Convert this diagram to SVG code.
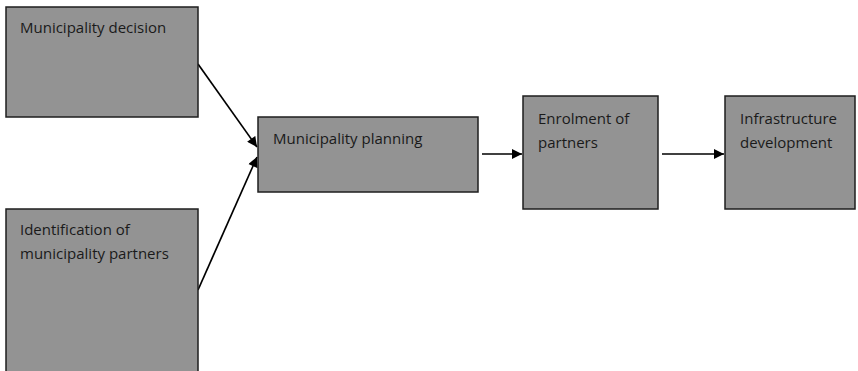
<svg xmlns="http://www.w3.org/2000/svg" width="858" height="371" viewBox="0 0 858 371">
<style>
.box{fill:#939393;stroke:#1e1e1e;stroke-width:1.5}
.t{font-family:"Open Sans","Liberation Sans",sans-serif;font-size:15px;fill:#1a1a1a}
.c{stroke:#000;stroke-width:1.7;fill:none;marker-end:url(#ah)}
</style>
<defs>
<marker id="ah" viewBox="0 0 10 10" refX="10" refY="5" markerWidth="11" markerHeight="10" markerUnits="userSpaceOnUse" orient="auto"><path d="M0,0 L10,5 L0,10 z" fill="#000"/></marker>
</defs>
<rect width="858" height="371" fill="#fff"/>
<g id="connectors">
<line class="c" x1="198" y1="64" x2="257" y2="147"/>
<line class="c" x1="198" y1="290" x2="257" y2="157"/>
<line class="c" x1="482" y1="154" x2="522" y2="154"/>
<line class="c" x1="662" y1="154" x2="724" y2="154"/>
</g>
<g id="n1"><rect class="box" x="6" y="7" width="192" height="110"/><text class="t" x="20" y="33">Municipality decision</text></g>
<g id="n2"><rect class="box" x="6" y="209" width="192" height="170"/><text class="t" x="20" y="235">Identification of</text><text class="t" x="20" y="259">municipality partners</text></g>
<g id="n3"><rect class="box" x="258" y="117" width="220" height="75"/><text class="t" x="273" y="144">Municipality planning</text></g>
<g id="n4"><rect class="box" x="523" y="96" width="135" height="113"/><text class="t" x="538" y="124">Enrolment of</text><text class="t" x="538" y="148">partners</text></g>
<g id="n5"><rect class="box" x="725" y="96" width="130" height="113"/><text class="t" x="740" y="124">Infrastructure</text><text class="t" x="740" y="148">development</text></g>
</svg>
